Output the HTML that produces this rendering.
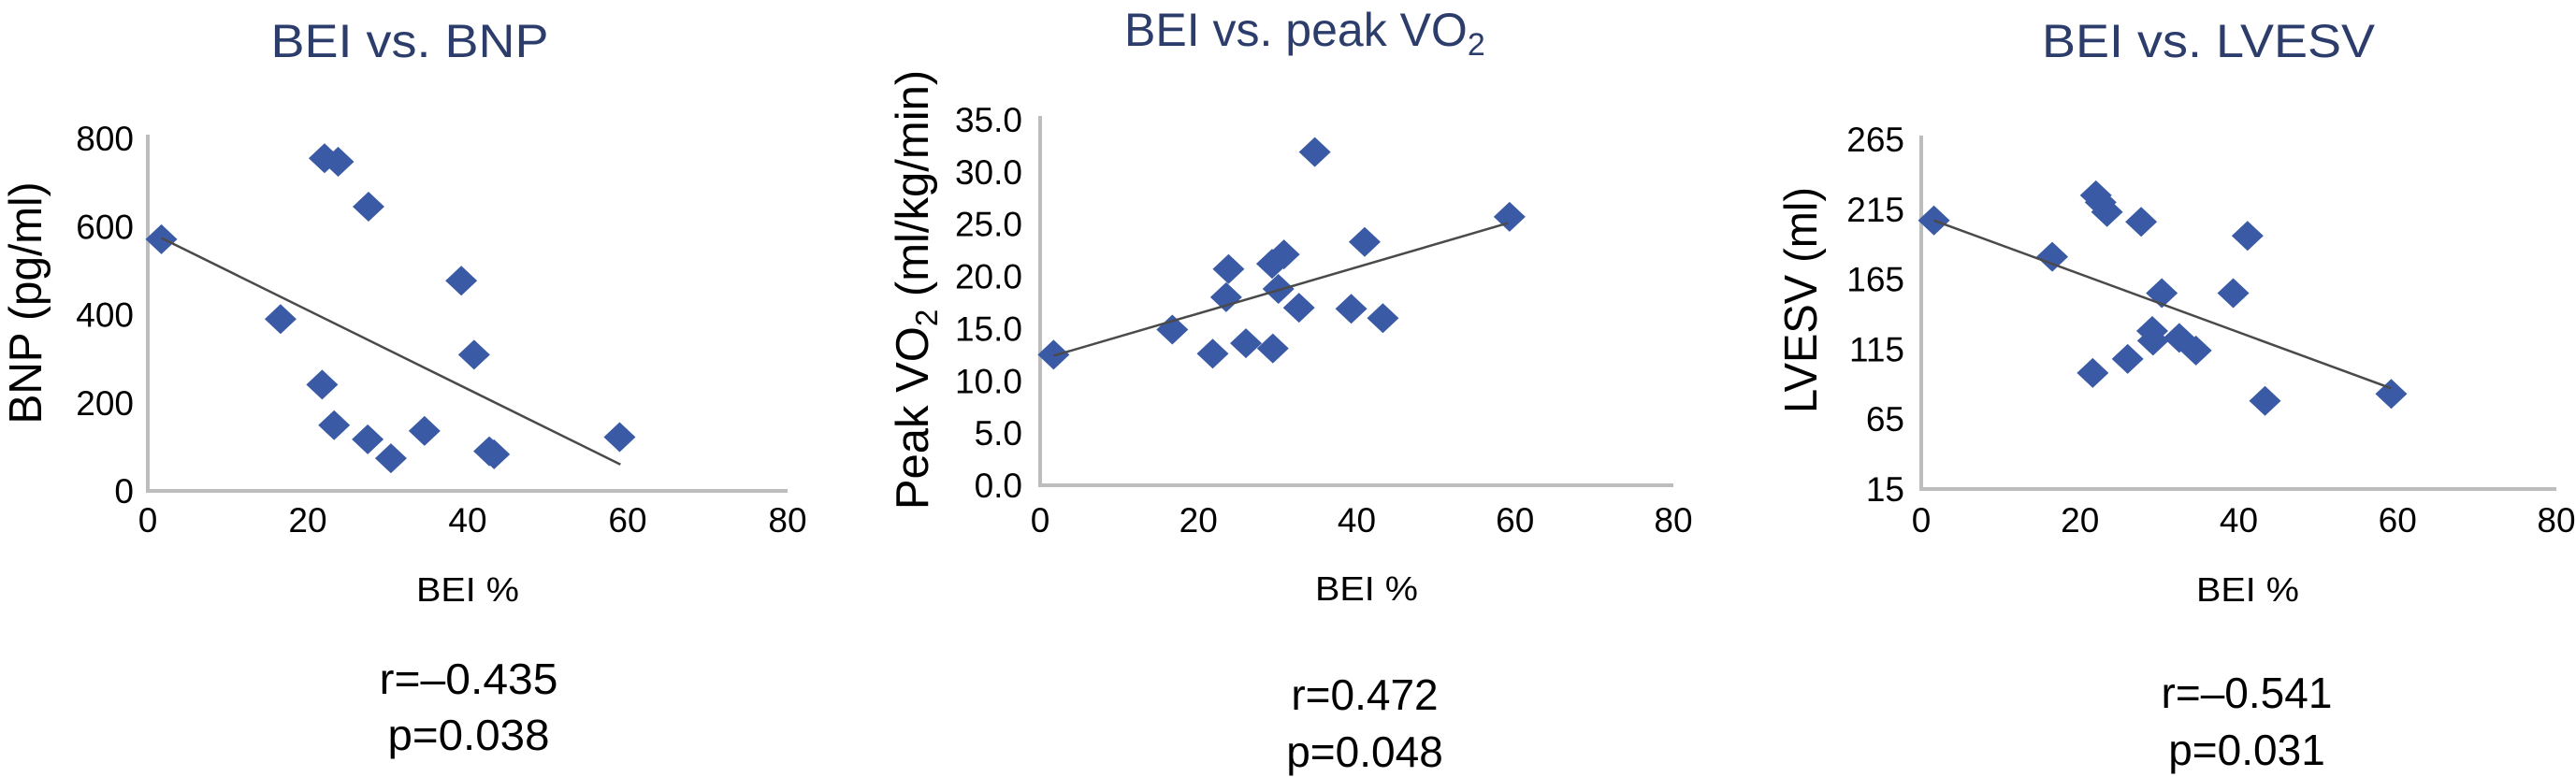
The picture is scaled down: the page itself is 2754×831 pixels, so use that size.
<!DOCTYPE html>
<html><head><meta charset="utf-8"><style>
html,body{margin:0;padding:0;background:#fff}
svg{display:block}
text{font-family:"Liberation Sans",Arial,sans-serif}
</style></head><body>
<svg id="fig" width="2754" height="831" viewBox="0 0 2754 831" xmlns="http://www.w3.org/2000/svg">
<g>
<text x="438" y="61" font-size="50" fill="#2c3d6b" text-anchor="middle" textLength="297" lengthAdjust="spacingAndGlyphs">BEI vs. BNP</text>
<text transform="translate(44,324) rotate(-90)" font-size="49" text-anchor="middle" textLength="259" lengthAdjust="spacingAndGlyphs">BNP (pg/ml)</text>
<text x="500" y="643" font-size="36" text-anchor="middle" textLength="110" lengthAdjust="spacingAndGlyphs">BEI %</text>
<text x="501" y="742" font-size="46" text-anchor="middle" textLength="191" lengthAdjust="spacingAndGlyphs">r=–0.435</text>
<text x="501" y="802" font-size="46" text-anchor="middle" textLength="173" lengthAdjust="spacingAndGlyphs">p=0.038</text>
</g>
<g>
<text x="1202" y="49" font-size="50" fill="#2c3d6b">BEI vs. peak VO<tspan font-size="34" dy="10">2</tspan></text>
<text transform="translate(992,310) rotate(-90)" font-size="49" text-anchor="middle">Peak VO<tspan font-size="33" dy="10">2</tspan><tspan dy="-10"> (ml/kg/min)</tspan></text>
<text x="1461" y="642" font-size="36" text-anchor="middle" textLength="110" lengthAdjust="spacingAndGlyphs">BEI %</text>
<text x="1459" y="759" font-size="46" text-anchor="middle">r=0.472</text>
<text x="1459" y="820" font-size="46" text-anchor="middle">p=0.048</text>
</g>
<g>
<text x="2361" y="61" font-size="50" fill="#2c3d6b" text-anchor="middle" textLength="356" lengthAdjust="spacingAndGlyphs">BEI vs. LVESV</text>
<text transform="translate(1942,321) rotate(-90)" font-size="49" text-anchor="middle" textLength="242" lengthAdjust="spacingAndGlyphs">LVESV (ml)</text>
<text x="2403" y="643" font-size="36" text-anchor="middle" textLength="110" lengthAdjust="spacingAndGlyphs">BEI %</text>
<text x="2402" y="757" font-size="46" text-anchor="middle">r=–0.541</text>
<text x="2402" y="818" font-size="46" text-anchor="middle">p=0.031</text>
</g>
</svg>
<script>
// ---- data ----
const xTicks = [0, 20, 40, 60, 80];
const bnpTicks = [0, 200, 400, 600, 800];
const bnpTickLabels = ["0", "200", "400", "600", "800"];
const bnpX = [1.7, 16.6, 22.1, 23.8, 27.6, 21.8, 23.3, 27.5, 30.4, 34.6, 39.2, 40.8, 42.7, 43.3, 59.0];
const bnpY = [571, 390, 755, 747, 645, 241, 149, 117, 74, 136, 477, 309, 90, 83, 122];
const bnpTrendX = [1.7, 59.1];
const bnpTrendY = [574, 60];

const vo2Ticks = [0, 5, 10, 15, 20, 25, 30, 35];
const vo2TickLabels = ["0.0", "5.0", "10.0", "15.0", "20.0", "25.0", "30.0", "35.0"];
const vo2X = [1.7, 16.7, 21.8, 23.5, 23.8, 26.0, 29.4, 29.3, 30.8, 30.1, 32.7, 34.7, 39.3, 41.0, 43.3, 59.3];
const vo2Y = [12.5, 14.9, 12.6, 18.0, 20.7, 13.6, 13.1, 21.2, 22.1, 18.8, 17.0, 31.9, 16.9, 23.3, 16.0, 25.7];
const vo2TrendX = [1.7, 59.1];
const vo2TrendY = [12.4, 25.1];

const lvTicks = [15, 65, 115, 165, 215, 265];
const lvTickLabels = ["15", "65", "115", "165", "215", "265"];
const lvX = [1.6, 16.5, 22.0, 22.6, 23.4, 27.7, 21.6, 26.0, 30.3, 29.1, 29.2, 32.5, 34.6, 39.3, 41.1, 43.3, 59.2];
const lvY = [207, 181, 225, 220, 213, 206, 98, 108, 155, 128, 121, 123, 114, 155, 196, 78, 83];
const lvTrendX = [1.6, 59.2];
const lvTrendY = [207, 87];

const NS = "http://www.w3.org/2000/svg";
const svg = document.getElementById("fig");
function mk(tag, attrs, parent) {
  const e = document.createElementNS(NS, tag);
  for (const k in attrs) e.setAttribute(k, attrs[k]);
  parent.appendChild(e);
  return e;
}
function drawPanel(id, px0, px80, py0, py1, ymin, ymax, yTicks, yLabels, labelRight, xs, ys, tx, ty) {
  const g = mk("g", {}, svg);
  
  
  const sx = v => px0 + (v - 0) / 80 * (px80 - px0);
  const sy = v => py0 + (v - ymin) / (ymax - ymin) * (py1 - py0);
  const ya = mk("line", {x1: px0, x2: px0, y1: py0 + 2, y2: py1 - 4, stroke: "#bdbdbd", "stroke-width": 4}, g);
  
  
  const xa = mk("line", {x1: px0 - 2, x2: px80, y1: py0, y2: py0, stroke: "#bdbdbd", "stroke-width": 4}, g);
  
  
  yTicks.forEach((t, i) => {
    const tl = mk("text", {x: labelRight, y: sy(t) + 13, "font-size": 37, "text-anchor": "end"}, g);
    tl.textContent = yLabels[i];
    
    
  });
  xTicks.forEach(t => {
    const tl = mk("text", {x: sx(t), y: 569, "font-size": 37, "text-anchor": "middle"}, g);
    tl.textContent = String(t);
    
    
  });
  xs.forEach((x, i) => {
    const cx = sx(x), cy = sy(ys[i]);
    const d = mk("polygon", {points: `${cx},${cy-16} ${cx+17},${cy} ${cx},${cy+16} ${cx-17},${cy}`, fill: "#3b5aa6"}, g);
    
    
  });
  const tr = mk("line", {x1: sx(tx[0]), y1: sy(ty[0]), x2: sx(tx[1]), y2: sy(ty[1]), stroke: "#4a4a4a", "stroke-width": 2.5}, g);
  
  
}
drawPanel("bnp", 158, 842, 525, 148, 0, 800, bnpTicks, bnpTickLabels, 143, bnpX, bnpY, bnpTrendX, bnpTrendY);
drawPanel("vo2", 1112, 1789, 519, 128, 0, 35, vo2Ticks, vo2TickLabels, 1093, vo2X, vo2Y, vo2TrendX, vo2TrendY);
drawPanel("lvesv", 2054, 2733, 523, 149, 15, 265, lvTicks, lvTickLabels, 2036, lvX, lvY, lvTrendX, lvTrendY);
</script>
</body></html>
